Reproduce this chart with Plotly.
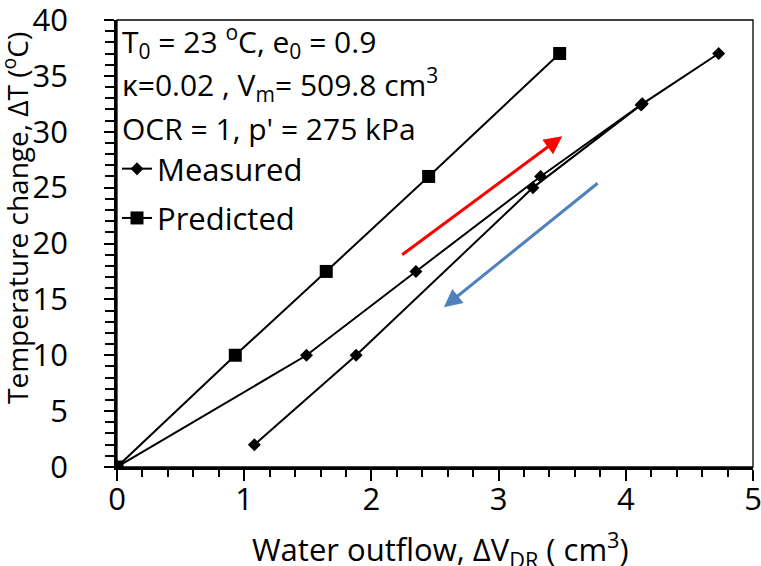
import plotly.graph_objects as go

# ---- data ----
measured_x = [0, 1.49, 2.35, 3.33, 4.13, 4.73, 4.12, 3.27, 1.88, 1.08]
measured_y = [0, 10, 17.5, 26, 32.5, 37, 32.4, 25, 10, 2]
predicted_x = [0, 0.93, 1.645, 2.45, 3.48]
predicted_y = [0, 10, 17.5, 26, 37]

x_ticks = [0, 1, 2, 3, 4, 5]
y_ticks = [0, 5, 10, 15, 20, 25, 30, 35, 40]

# arrows (start -> tip) in data units
red_arrow = [(2.23, 18.9), (3.50, 29.6)]
blue_arrow = [(3.79, 25.5), (2.57, 14.3)]

FONT = "Open Sans"
FS = 30
TFS = 31

W, H = 761, 566
ML, MR, MT, MB = 117, 8, 20, 99
PW = W - ML - MR
PH = H - MT - MB


def px_x(p):
    return (p - ML) / PW


def px_y(p):
    return (H - MB - p) / PH


fig = go.Figure()
fig.add_trace(go.Scatter(
    x=measured_x, y=measured_y, mode="lines+markers", name="Measured",
    legendgroup="m",
    line=dict(color="black", width=2),
    marker=dict(symbol="diamond", size=10, color="black"),
))
fig.add_trace(go.Scatter(
    x=predicted_x, y=predicted_y, mode="lines+markers", name="Predicted",
    legendgroup="p",
    line=dict(color="black", width=2),
    marker=dict(symbol="square", size=13, color="black"),
))

for (s, t), col in [(red_arrow, "#FF0000"), (blue_arrow, "#4F81BD")]:
    fig.add_annotation(x=t[0], y=t[1], ax=s[0], ay=s[1], xref="x", yref="y",
                       axref="x", ayref="y", showarrow=True, arrowhead=2,
                       arrowsize=1.2, arrowwidth=3, arrowcolor=col, text="")

lines = [
    ("T<sub>0</sub> = 23 <sup>o</sup>C, e<sub>0</sub> = 0.9", 42),
    ("\u03ba=0.02 , V<sub>m</sub>= 509.8 cm<sup>3</sup>", 85),
    ("OCR = 1, p' = 275 kPa", 128),
]
for txt, ypx in lines:
    fig.add_annotation(text=txt, xref="paper", yref="paper", x=px_x(120),
                       y=px_y(ypx), xanchor="left", yanchor="middle",
                       showarrow=False, font=dict(family=FONT, size=FS, color="black"))

# axis titles as annotations for exact placement
fig.add_annotation(text="Temperature change, \u0394T (<sup>o</sup>C)", xref="paper",
                   yref="paper", x=px_x(15), y=px_y(218),
                   xanchor="center", yanchor="middle", textangle=-90,
                   showarrow=False, font=dict(family=FONT, size=28, color="black"))
fig.add_annotation(text="Water outflow, \u0394V<sub>DR</sub> ( cm<sup>3</sup>)", xref="paper",
                   yref="paper", x=px_x(440), y=px_y(549),
                   xanchor="center", yanchor="middle",
                   showarrow=False, font=dict(family=FONT, size=TFS, color="black"))

# thin frame top/right
fig.add_shape(type="rect", xref="paper", yref="paper", x0=0, y0=0, x1=1, y1=1,
              line=dict(color="black", width=1.3), layer="below")

fig.update_layout(
    width=W, height=H,
    margin=dict(l=ML, r=MR, t=MT, b=MB),
    paper_bgcolor="white", plot_bgcolor="white",
    font=dict(family=FONT, size=FS, color="black"),
    showlegend=True,
    legend=dict(x=0.0, y=px_y(142), xanchor="left", yanchor="top",
                bgcolor="rgba(0,0,0,0)", tracegroupgap=6,
                font=dict(family=FONT, size=TFS)),
    xaxis=dict(
        range=[0, 5], tickvals=x_ticks, ticks="outside", ticklen=11, tickwidth=2,
        tickcolor="black", showline=True, linecolor="black", linewidth=2.5,
        showgrid=False, zeroline=False, ticklabelstandoff=-8, automargin=False,
        ticklabeloverflow="allow",
        minor=dict(dtick=0.2, ticks="outside", ticklen=7, tickwidth=1.5,
                   tickcolor="black", showgrid=False),
        tickfont=dict(family=FONT, size=TFS),
    ),
    yaxis=dict(
        range=[0, 40], tickvals=y_ticks, ticks="outside", ticklen=10, tickwidth=2,
        tickcolor="black", showline=True, linecolor="black", linewidth=2.5,
        showgrid=False, zeroline=False, ticklabelstandoff=30, automargin=False,
        ticklabeloverflow="allow",
        minor=dict(dtick=1, ticks="outside", ticklen=9, tickwidth=1.5,
                   tickcolor="black", showgrid=False),
        tickfont=dict(family=FONT, size=TFS),
    ),
)

fig.write_html("out.html")
